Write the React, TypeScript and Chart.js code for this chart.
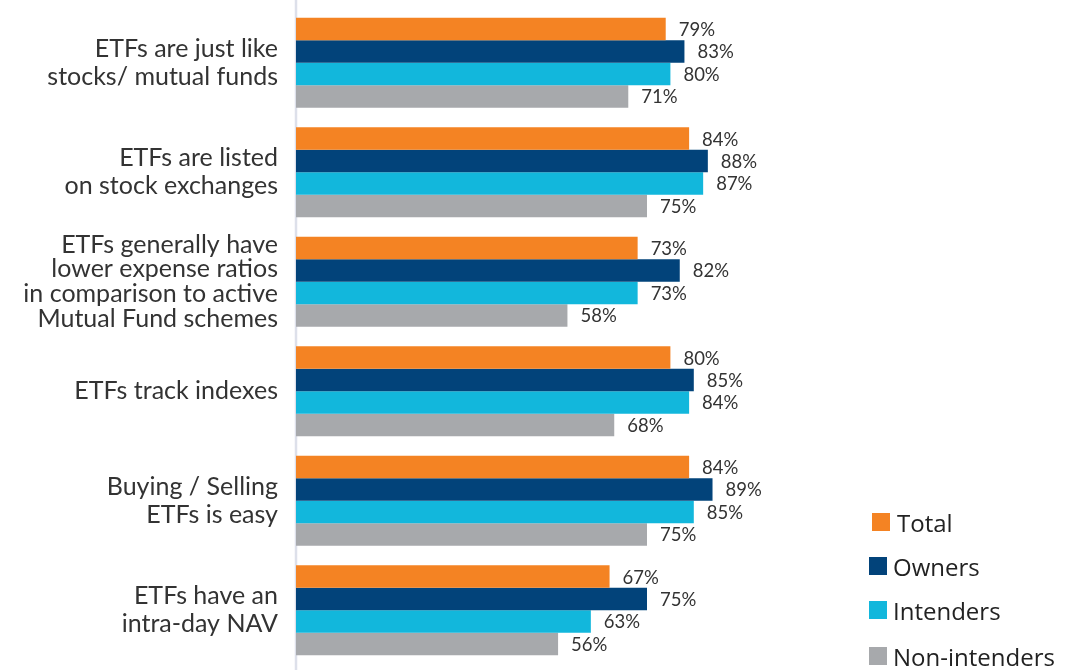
import React, { useEffect, useRef } from "react";
import { Chart, registerables } from "chart.js";

Chart.register(...registerables);

const categories: string[][] = [
  ["ETFs are just like", "stocks/ mutual funds"],
  ["ETFs are listed", "on stock exchanges"],
  ["ETFs generally have", "lower expense ratios", "in comparison to active", "Mutual Fund schemes"],
  ["ETFs track indexes"],
  ["Buying / Selling", "ETFs is easy"],
  ["ETFs have an", "intra-day NAV"],
];

const seriesNames = ["Total", "Owners", "Intenders", "Non-intenders"];
const totalValues = [79, 84, 73, 80, 84, 67];
const ownersValues = [83, 88, 82, 85, 89, 75];
const intendersValues = [80, 87, 73, 84, 85, 63];
const nonIntendersValues = [71, 75, 58, 68, 75, 56];
const seriesColors = ["#F48323", "#02437A", "#12B7DC", "#A7A9AC"];

const valueLabelPlugin = {
  id: "valueLabels",
  beforeDatasetsDraw(chart: any) {
    const ctx = chart.ctx;
    const x = chart.chartArea.left;
    ctx.save();
    ctx.strokeStyle = "#DDE0EA";
    ctx.lineWidth = 2.5;
    ctx.beginPath();
    ctx.moveTo(x, 0);
    ctx.lineTo(x, chart.height);
    ctx.stroke();
    ctx.restore();
  },
  afterDatasetsDraw(chart: any) {
    const ctx = chart.ctx;
    ctx.save();
    ctx.font = "18.5px Lato";
    ctx.fillStyle = "#333333";
    ctx.textAlign = "left";
    ctx.textBaseline = "middle";
    chart.data.datasets.forEach((ds: any, di: number) => {
      const meta = chart.getDatasetMeta(di);
      meta.data.forEach((el: any, i: number) => {
        ctx.fillText(ds.data[i] + "%", el.x + 13, el.y + 1);
      });
    });
    ctx.restore();
  },
};

export default function App() {
  const ref = useRef<HTMLCanvasElement | null>(null);
  useEffect(() => {
    if (!ref.current) return;
    const chart = new Chart(ref.current, {
      type: "bar",
      data: {
        labels: categories,
        datasets: [totalValues, ownersValues, intendersValues, nonIntendersValues].map((d, i) => ({
          label: seriesNames[i],
          data: d,
          backgroundColor: seriesColors[i],
          borderWidth: 0,
          categoryPercentage: 0.82,
          barPercentage: 1,
        })),
      },
      options: {
        indexAxis: "y",
        animation: false,
        responsive: false,
        layout: { padding: { left: 0, right: 314, top: 8, bottom: 5 } },
        plugins: { legend: { display: false }, tooltip: { enabled: false } },
        scales: {
          x: { display: false, min: 0, max: 100 },
          y: {
            afterFit(scale: any) {
              scale.width = 296;
              scale.paddingTop = 0;
              scale.paddingBottom = 0;
            },
            grid: { display: false, drawTicks: false },
            border: { display: false },
            ticks: {
              padding: 18,
              color: "#333333",
              font: (c: any) => ({ family: "Lato", size: 25, lineHeight: c.index === 2 ? 0.99 : 1.13 }),
            },
          },
        },
      },
      plugins: [valueLabelPlugin],
    } as any);
    return () => chart.destroy();
  }, []);

  const legendTops = [513, 557, 601, 647];
  return (
    <div style={{ position: "absolute", left: 0, top: 0, width: 1078, height: 670, background: "#fff" }}>
      <canvas ref={ref} width={1078} height={670} style={{ display: "block" }} />
      {seriesNames.map((name, i) => (
        <div
          key={name}
          style={{
            position: "absolute",
            left: i === 0 ? 872 : 869,
            top: legendTops[i] - 5,
            display: "flex",
            alignItems: "center",
            height: 28,
            fontFamily: "'Open Sans'",
            fontSize: 24,
            color: "#222",
            whiteSpace: "nowrap",
          }}
        >
          <span style={{ display: "inline-block", width: 18, height: 18, background: seriesColors[i], marginRight: i === 0 ? 7 : 6 }} />
          <span>{name}</span>
        </div>
      ))}
    </div>
  );
}
